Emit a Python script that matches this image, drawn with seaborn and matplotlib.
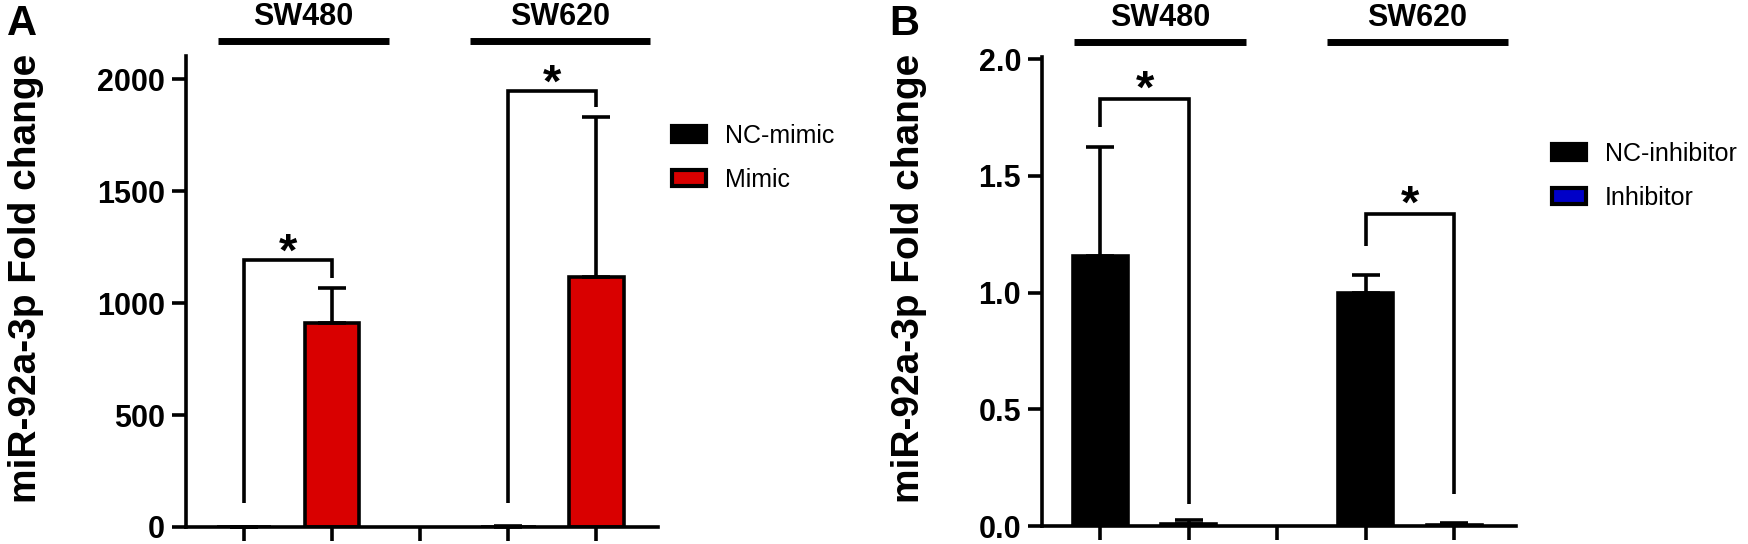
import numpy as np
import pandas as pd
import matplotlib.pyplot as plt
import seaborn as sns
from matplotlib.transforms import blended_transform_factory

# Style
sns.set_style("ticks")
plt.rcParams["font.family"] = ["Liberation Sans", "DejaVu Sans"]
plt.rcParams["font.weight"] = "bold"
for key in ["text.color", "axes.labelcolor", "xtick.color", "ytick.color"]:
    plt.rcParams[key] = "black"

# ==========================================================
# Data
# ==========================================================
cell_lines = ["SW480", "SW620"]
slot_order = ["SW480 NC", "SW480 treat", "gap", "SW620 NC", "SW620 treat"]
slots = ["SW480 NC", "SW480 treat", "SW620 NC", "SW620 treat"]

# Panel A - mimic
mimic_groups = ["NC-mimic", "Mimic"]
mimic_hue = ["NC-mimic", "Mimic", "NC-mimic", "Mimic"]
mimic_mean = [1, 910, 1, 1115]
mimic_sd = [0.5, 155, 5, 715]
mimic_star_y = [1290, 2045]
mimic_bracket_left = [106, 106]
mimic_bracket_top = [1190, 1945]
mimic_bracket_right = [1110, 1875]

# Panel B - inhibitor
inhib_groups = ["NC-inhibitor", "Inhibitor"]
inhib_hue = ["NC-inhibitor", "Inhibitor", "NC-inhibitor", "Inhibitor"]
inhib_mean = [1.155, 0.010, 1.0, 0.005]
inhib_sd = [0.47, 0.017, 0.075, 0.008]
inhib_star_y = [1.93, 1.44]
inhib_bracket_left = [1.71, 1.20]
inhib_bracket_top = [1.83, 1.335]
inhib_bracket_right = [0.095, 0.135]

# ==========================================================
# Layout
# ==========================================================
W, H = 1748, 544
LW = 2.6
header_spans = [(-0.30, 1.65), (2.56, 4.61)]

fig = plt.figure(figsize=(W / 100, H / 100), dpi=100)
axA = fig.add_axes([186 / W, 1 - 527 / H, (658 - 186) / W, (527 - 56) / H])
axB = fig.add_axes([1042 / W, 1 - 526 / H, (1516 - 1042) / W, (526 - 57) / H])


def draw_panel(ax, groups, hue, mean, sd, palette, ylim, yticks, fmt,
               star_y, br_left, br_top, br_right, legend_xy):
    df = pd.DataFrame({"slot": slots, "group": hue, "value": mean})
    sns.barplot(data=df, x="slot", y="value", hue="group", order=slot_order,
                hue_order=groups, palette=palette, dodge=False, width=0.62,
                saturation=1, errorbar=None, edgecolor="black", linewidth=LW,
                ax=ax)

    xpos = [slot_order.index(s) for s in slots]
    ax.errorbar(xpos, mean, yerr=[np.zeros(len(sd)), sd], fmt="none",
                ecolor="black", elinewidth=LW, capsize=10, capthick=LW,
                zorder=3, clip_on=False)

    # significance brackets
    for i in range(len(cell_lines)):
        xl, xr = xpos[2 * i], xpos[2 * i + 1]
        ax.plot([xl, xl, xr, xr], [br_left[i], br_top[i], br_top[i], br_right[i]],
                color="black", lw=LW, solid_joinstyle="miter",
                solid_capstyle="butt", clip_on=False, zorder=4)
        ax.annotate("*", xy=((xl + xr) / 2, star_y[i]), xytext=(0, -0.58 * 34),
                    textcoords="offset points", ha="center", va="baseline",
                    fontsize=34, fontweight="bold", annotation_clip=False)

    # cell line headers
    trans = blended_transform_factory(ax.transData, ax.transAxes)
    for name, (x0, x1) in zip(cell_lines, header_spans):
        ax.plot([x0, x1], [1.032, 1.032], transform=trans, color="black",
                lw=5, solid_capstyle="butt", clip_on=False)
        ax.text((x0 + x1) / 2, 1.066, name, transform=trans, ha="center",
                va="baseline", fontsize=22, fontweight="bold")

    ax.set_xlim(-0.66, 4.70)
    ax.set_ylim(*ylim)
    ax.set_yticks(yticks)
    ax.set_yticklabels([fmt.format(t) for t in yticks])
    ax.set_xticks(range(len(slot_order)))
    ax.set_xticklabels([])
    ax.set_xlabel("")
    ax.set_ylabel("")
    ax.tick_params(axis="both", length=10, width=LW, direction="out",
                   labelsize=22, pad=5, color="black")
    for lab in ax.get_yticklabels():
        lab.set_fontweight("bold")
    sns.despine(ax=ax)
    for sp in ["left", "bottom"]:
        ax.spines[sp].set_linewidth(LW)
        ax.spines[sp].set_color("black")

    # legend
    leg = ax.get_legend()
    handles = leg.legend_handles
    labels = [t.get_text() for t in leg.texts]
    leg.remove()
    for h in handles:
        h.set_edgecolor("black")
        h.set_linewidth(3)
    ax.legend(handles, labels, loc="upper left",
              bbox_to_anchor=(legend_xy[0] / W, 1 - legend_xy[1] / H),
              bbox_transform=fig.transFigure, frameon=False, borderpad=0,
              borderaxespad=0, handlelength=1.36, handleheight=0.64,
              handletextpad=0.76, labelspacing=0.8,
              prop={"size": 18, "weight": "normal"})


draw_panel(axA, mimic_groups, mimic_hue, mimic_mean, mimic_sd,
           {"NC-mimic": "black", "Mimic": "#D90000"},
           (0, 2103), [0, 500, 1000, 1500, 2000], "{:.0f}",
           mimic_star_y, mimic_bracket_left, mimic_bracket_top,
           mimic_bracket_right, (672, 124))

draw_panel(axB, inhib_groups, inhib_hue, inhib_mean, inhib_sd,
           {"NC-inhibitor": "black", "Inhibitor": "#0000C8"},
           (0, 2.009), [0, 0.5, 1.0, 1.5, 2.0], "{:.1f}",
           inhib_star_y, inhib_bracket_left, inhib_bracket_top,
           inhib_bracket_right, (1552, 142))

# y labels and panel letters
for xc, letter, lx in [(26, "A", 22), (909, "B", 904)]:
    fig.text(xc / W, 1 - 278 / H, "miR-92a-3p Fold change", rotation=90,
             ha="center", va="center", fontsize=28, fontweight="bold")
    fig.text(lx / W, 1 - 35 / H, letter, ha="center", va="baseline",
             fontsize=30, fontweight="bold")

fig.savefig("out.png", dpi=100)
